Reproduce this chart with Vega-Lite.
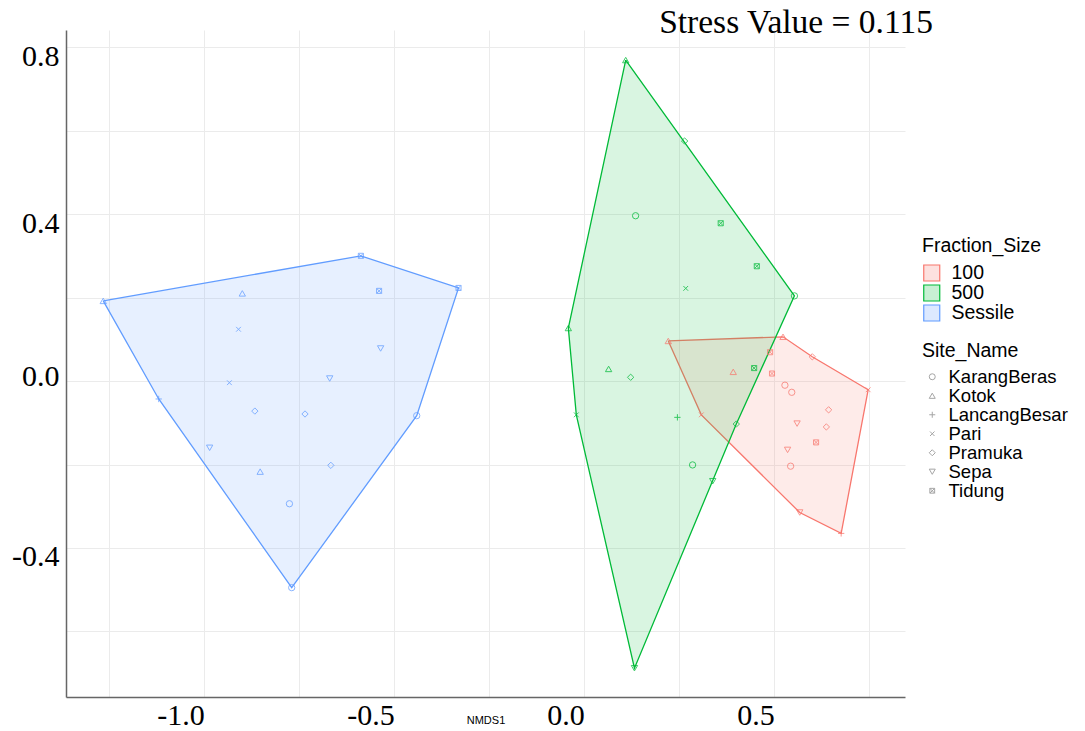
{
  "$schema": "https://vega.github.io/schema/vega-lite/v6.json",
  "width": 839,
  "height": 667,
  "autosize": "none",
  "padding": {"left": 66, "top": 30, "right": 180, "bottom": 34},
  "background": "white",
  "title": {"text": "Stress Value = 0.115", "anchor": "end", "frame": "group", "font": "Liberation Serif", "fontSize": 33.5, "fontWeight": "normal", "color": "black", "dx": 28, "offset": -10},
  "datasets": {
    "hull": [
      {"Fraction_Size": "100", "i": 0, "NMDS1": 0.221, "NMDS2": 0.096},
      {"Fraction_Size": "100", "i": 1, "NMDS1": 0.523, "NMDS2": 0.106},
      {"Fraction_Size": "100", "i": 2, "NMDS1": 0.600, "NMDS2": 0.058},
      {"Fraction_Size": "100", "i": 3, "NMDS1": 0.747, "NMDS2": -0.021},
      {"Fraction_Size": "100", "i": 4, "NMDS1": 0.676, "NMDS2": -0.365},
      {"Fraction_Size": "100", "i": 5, "NMDS1": 0.567, "NMDS2": -0.315},
      {"Fraction_Size": "100", "i": 6, "NMDS1": 0.308, "NMDS2": -0.081},
      {"Fraction_Size": "100", "i": 7, "NMDS1": 0.221, "NMDS2": 0.096},
      {"Fraction_Size": "500", "i": 0, "NMDS1": 0.109, "NMDS2": 0.769},
      {"Fraction_Size": "500", "i": 1, "NMDS1": 0.553, "NMDS2": 0.204},
      {"Fraction_Size": "500", "i": 2, "NMDS1": 0.400, "NMDS2": -0.103},
      {"Fraction_Size": "500", "i": 3, "NMDS1": 0.132, "NMDS2": -0.688},
      {"Fraction_Size": "500", "i": 4, "NMDS1": -0.021, "NMDS2": -0.081},
      {"Fraction_Size": "500", "i": 5, "NMDS1": -0.042, "NMDS2": 0.127},
      {"Fraction_Size": "500", "i": 6, "NMDS1": 0.109, "NMDS2": 0.769},
      {"Fraction_Size": "Sessile", "i": 0, "NMDS1": -1.266, "NMDS2": 0.192},
      {"Fraction_Size": "Sessile", "i": 1, "NMDS1": -0.588, "NMDS2": 0.300},
      {"Fraction_Size": "Sessile", "i": 2, "NMDS1": -0.331, "NMDS2": 0.223},
      {"Fraction_Size": "Sessile", "i": 3, "NMDS1": -0.441, "NMDS2": -0.083},
      {"Fraction_Size": "Sessile", "i": 4, "NMDS1": -0.770, "NMDS2": -0.495},
      {"Fraction_Size": "Sessile", "i": 5, "NMDS1": -1.120, "NMDS2": -0.043},
      {"Fraction_Size": "Sessile", "i": 6, "NMDS1": -1.266, "NMDS2": 0.192}
    ],
    "pts": [
      {"Fraction_Size": "Sessile", "Site_Name": "KarangBeras", "NMDS1": -0.441, "NMDS2": -0.083},
      {"Fraction_Size": "Sessile", "Site_Name": "KarangBeras", "NMDS1": -0.776, "NMDS2": -0.294},
      {"Fraction_Size": "Sessile", "Site_Name": "KarangBeras", "NMDS1": -0.770, "NMDS2": -0.495},
      {"Fraction_Size": "Sessile", "Site_Name": "Kotok", "NMDS1": -1.266, "NMDS2": 0.192},
      {"Fraction_Size": "Sessile", "Site_Name": "Kotok", "NMDS1": -0.900, "NMDS2": 0.210},
      {"Fraction_Size": "Sessile", "Site_Name": "Kotok", "NMDS1": -0.853, "NMDS2": -0.217},
      {"Fraction_Size": "Sessile", "Site_Name": "LancangBesar", "NMDS1": -1.120, "NMDS2": -0.043},
      {"Fraction_Size": "Sessile", "Site_Name": "Pari", "NMDS1": -0.910, "NMDS2": 0.124},
      {"Fraction_Size": "Sessile", "Site_Name": "Pari", "NMDS1": -0.934, "NMDS2": -0.004},
      {"Fraction_Size": "Sessile", "Site_Name": "Pramuka", "NMDS1": -0.867, "NMDS2": -0.072},
      {"Fraction_Size": "Sessile", "Site_Name": "Pramuka", "NMDS1": -0.735, "NMDS2": -0.079},
      {"Fraction_Size": "Sessile", "Site_Name": "Pramuka", "NMDS1": -0.667, "NMDS2": -0.202},
      {"Fraction_Size": "Sessile", "Site_Name": "Sepa", "NMDS1": -0.536, "NMDS2": 0.078},
      {"Fraction_Size": "Sessile", "Site_Name": "Sepa", "NMDS1": -0.670, "NMDS2": 0.006},
      {"Fraction_Size": "Sessile", "Site_Name": "Sepa", "NMDS1": -0.986, "NMDS2": -0.160},
      {"Fraction_Size": "Sessile", "Site_Name": "Tidung", "NMDS1": -0.588, "NMDS2": 0.300},
      {"Fraction_Size": "Sessile", "Site_Name": "Tidung", "NMDS1": -0.331, "NMDS2": 0.223},
      {"Fraction_Size": "Sessile", "Site_Name": "Tidung", "NMDS1": -0.540, "NMDS2": 0.216},
      {"Fraction_Size": "500", "Site_Name": "KarangBeras", "NMDS1": 0.135, "NMDS2": 0.396},
      {"Fraction_Size": "500", "Site_Name": "KarangBeras", "NMDS1": 0.553, "NMDS2": 0.204},
      {"Fraction_Size": "500", "Site_Name": "KarangBeras", "NMDS1": 0.285, "NMDS2": -0.201},
      {"Fraction_Size": "500", "Site_Name": "Kotok", "NMDS1": 0.109, "NMDS2": 0.769},
      {"Fraction_Size": "500", "Site_Name": "Kotok", "NMDS1": -0.042, "NMDS2": 0.127},
      {"Fraction_Size": "500", "Site_Name": "Kotok", "NMDS1": 0.064, "NMDS2": 0.029},
      {"Fraction_Size": "500", "Site_Name": "LancangBesar", "NMDS1": 0.245, "NMDS2": -0.087},
      {"Fraction_Size": "500", "Site_Name": "Pari", "NMDS1": 0.267, "NMDS2": 0.222},
      {"Fraction_Size": "500", "Site_Name": "Pari", "NMDS1": -0.021, "NMDS2": -0.081},
      {"Fraction_Size": "500", "Site_Name": "Pramuka", "NMDS1": 0.264, "NMDS2": 0.575},
      {"Fraction_Size": "500", "Site_Name": "Pramuka", "NMDS1": 0.122, "NMDS2": 0.009},
      {"Fraction_Size": "500", "Site_Name": "Pramuka", "NMDS1": 0.400, "NMDS2": -0.103},
      {"Fraction_Size": "500", "Site_Name": "Sepa", "NMDS1": 0.338, "NMDS2": -0.240},
      {"Fraction_Size": "500", "Site_Name": "Sepa", "NMDS1": 0.132, "NMDS2": -0.688},
      {"Fraction_Size": "500", "Site_Name": "Tidung", "NMDS1": 0.359, "NMDS2": 0.378},
      {"Fraction_Size": "500", "Site_Name": "Tidung", "NMDS1": 0.454, "NMDS2": 0.275},
      {"Fraction_Size": "500", "Site_Name": "Tidung", "NMDS1": 0.447, "NMDS2": 0.031},
      {"Fraction_Size": "100", "Site_Name": "KarangBeras", "NMDS1": 0.528, "NMDS2": -0.010},
      {"Fraction_Size": "100", "Site_Name": "KarangBeras", "NMDS1": 0.546, "NMDS2": -0.027},
      {"Fraction_Size": "100", "Site_Name": "KarangBeras", "NMDS1": 0.543, "NMDS2": -0.204},
      {"Fraction_Size": "100", "Site_Name": "Kotok", "NMDS1": 0.221, "NMDS2": 0.096},
      {"Fraction_Size": "100", "Site_Name": "Kotok", "NMDS1": 0.523, "NMDS2": 0.106},
      {"Fraction_Size": "100", "Site_Name": "Kotok", "NMDS1": 0.392, "NMDS2": 0.022},
      {"Fraction_Size": "100", "Site_Name": "LancangBesar", "NMDS1": 0.676, "NMDS2": -0.365},
      {"Fraction_Size": "100", "Site_Name": "Pari", "NMDS1": 0.747, "NMDS2": -0.021},
      {"Fraction_Size": "100", "Site_Name": "Pari", "NMDS1": 0.308, "NMDS2": -0.081},
      {"Fraction_Size": "100", "Site_Name": "Pramuka", "NMDS1": 0.600, "NMDS2": 0.058},
      {"Fraction_Size": "100", "Site_Name": "Pramuka", "NMDS1": 0.643, "NMDS2": -0.069},
      {"Fraction_Size": "100", "Site_Name": "Pramuka", "NMDS1": 0.637, "NMDS2": -0.110},
      {"Fraction_Size": "100", "Site_Name": "Sepa", "NMDS1": 0.560, "NMDS2": -0.102},
      {"Fraction_Size": "100", "Site_Name": "Sepa", "NMDS1": 0.535, "NMDS2": -0.165},
      {"Fraction_Size": "100", "Site_Name": "Sepa", "NMDS1": 0.567, "NMDS2": -0.315},
      {"Fraction_Size": "100", "Site_Name": "Tidung", "NMDS1": 0.489, "NMDS2": 0.069},
      {"Fraction_Size": "100", "Site_Name": "Tidung", "NMDS1": 0.494, "NMDS2": 0.018},
      {"Fraction_Size": "100", "Site_Name": "Tidung", "NMDS1": 0.610, "NMDS2": -0.147}
    ]
  },
  "layer": [
    {
      "data": {"name": "hull"},
      "mark": {"type": "line", "fillOpacity": 0.15, "strokeWidth": 1.3, "interpolate": "linear"},
      "encoding": {
        "x": {"field": "NMDS1", "type": "quantitative"},
        "y": {"field": "NMDS2", "type": "quantitative"},
        "order": {"field": "i", "type": "quantitative"},
        "stroke": {"field": "Fraction_Size", "type": "nominal", "title": "Fraction_Size",
          "scale": {"domain": ["100", "500", "Sessile"], "range": ["#F8766D", "#00BA38", "#619CFF"]},
          "legend": {"orient": "none", "legendX": 856, "legendY": 207, "symbolType": "square", "symbolSize": 256, "symbolStrokeWidth": 1.2, "labelOffset": 10, "rowPadding": 0, "clipHeight": 19, "titlePadding": 7, "encode": {"symbols": {"update": {"fillOpacity": {"value": 0.22}}}}}},
        "fill": {"field": "Fraction_Size", "type": "nominal", "title": "Fraction_Size",
          "scale": {"domain": ["100", "500", "Sessile"], "range": ["#F8766D", "#00BA38", "#619CFF"]},
          "legend": {"orient": "none", "legendX": 856, "legendY": 207, "symbolType": "square", "symbolSize": 256, "symbolStrokeWidth": 1.2, "labelOffset": 10, "rowPadding": 0, "clipHeight": 19, "titlePadding": 7, "encode": {"symbols": {"update": {"fillOpacity": {"value": 0.22}}}}}}
      }
    },
    {
      "data": {"name": "pts"},
      "mark": {"type": "point", "filled": false, "size": 40, "strokeWidth": 1, "opacity": 0.75},
      "encoding": {
        "x": {"field": "NMDS1", "type": "quantitative", "scale": {"domain": [-1.364, 0.844], "nice": false, "zero": false},
          "axis": {"title": "NMDS1", "titleFont": "Liberation Sans", "titleFontSize": 11, "titleFontWeight": "normal", "titleColor": "black", "titleBaseline": "alphabetic", "titleY": 26,
            "values": [-1.25, -1, -0.75, -0.5, -0.25, 0, 0.25, 0.5, 0.75],
            "labelExpr": "abs(round(datum.value * 4)) % 2 == 0 ? (datum.value < 0 ? '-' : '') + format(abs(datum.value), '.1f') : ''",
            "labelFont": "Liberation Serif", "labelFontSize": 30, "labelColor": "black", "labelAlign": "right", "labelDx": 5, "labelBaseline": "top", "labelPadding": 3, "labelOverlap": false, "labelFlush": false,
            "ticks": false, "domainColor": "#666666", "domainWidth": 1.5, "gridColor": "#ebebeb", "gridWidth": 1}},
        "y": {"field": "NMDS2", "type": "quantitative", "scale": {"domain": [-0.757, 0.841], "nice": false, "zero": false},
          "axis": {"title": null,
            "values": [-0.6, -0.4, -0.2, 0, 0.2, 0.4, 0.6, 0.8],
            "labelExpr": "abs(round(datum.value * 10)) % 4 == 0 ? (datum.value < 0 ? '-' : '') + format(abs(datum.value), '.1f') : ''",
            "labelFont": "Liberation Serif", "labelFontSize": 30, "labelColor": "black", "labelAlign": "right", "labelBaseline": "middle", "labelPadding": 7, "labelOverlap": false, "labelFlush": false,
            "labelOffset": {"condition": {"test": "datum.value == 0", "value": -5}, "value": 9},
            "ticks": false, "domainColor": "#666666", "domainWidth": 1.5, "gridColor": "#ebebeb", "gridWidth": 1}},
        "stroke": {"field": "Fraction_Size", "type": "nominal", "title": "Fraction_Size"},
        "shape": {"field": "Site_Name", "type": "nominal", "title": "Site_Name",
          "scale": {"domain": ["KarangBeras", "Kotok", "LancangBesar", "Pari", "Pramuka", "Sepa", "Tidung"],
            "range": ["circle", "triangle-up", "M-1,0L1,0M0,-1L0,1", "M-0.75,-0.75L0.75,0.75M-0.75,0.75L0.75,-0.75", "diamond", "triangle-down", "M-0.8,-0.8L0.8,-0.8L0.8,0.8L-0.8,0.8ZM-0.8,-0.8L0.8,0.8M-0.8,0.8L0.8,-0.8"]},
          "legend": {"orient": "none", "legendX": 856, "legendY": 312, "symbolSize": 36, "symbolStrokeColor": "#888888", "symbolFillColor": "transparent", "symbolStrokeWidth": 1, "symbolOffset": 1, "labelOffset": 7, "labelFontSize": 18.5, "rowPadding": 0, "clipHeight": 18.5, "titlePadding": 6}}
      }
    }
  ],
  "config": {
    "view": {"stroke": null},
    "legend": {"titleFont": "Liberation Sans", "titleFontSize": 19.5, "titleFontWeight": "normal", "titleColor": "black", "labelFont": "Liberation Sans", "labelFontSize": 19.5, "labelColor": "black", "labelLimit": 0}
  }
}
